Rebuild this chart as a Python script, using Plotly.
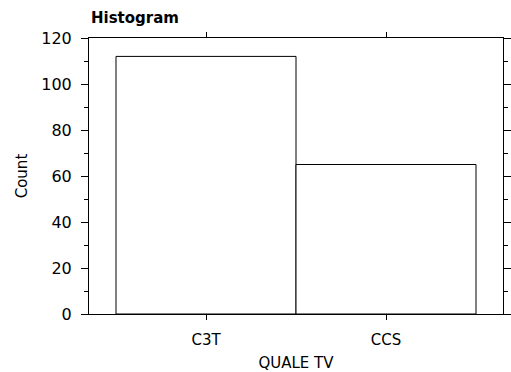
import plotly.graph_objects as go

categories = ["C3T", "CCS"]
counts = [112, 65]

FONT = "DejaVu Sans"

fig = go.Figure(
    go.Bar(
        x=categories,
        y=counts,
        width=1.0,
        marker=dict(color="white", line=dict(color="black", width=1)),
    )
)

fig.update_layout(
    width=511,
    height=372,
    margin=dict(l=89, r=8, t=38, b=58, autoexpand=False),
    paper_bgcolor="white",
    plot_bgcolor="white",
    showlegend=False,
    font=dict(family=FONT, size=15, color="black"),
    title=dict(
        text="<b>Histogram</b>",
        x=91 / 511,
        xanchor="left",
        y=1 - 18 / 372,
        yanchor="middle",
        font=dict(family=FONT, size=15, color="black"),
    ),
)

fig.update_xaxes(
    type="category",
    range=[-0.65, 1.65],
    automargin=False,
    showgrid=False,
    zeroline=False,
    showline=True,
    linecolor="black",
    linewidth=1,
    mirror="ticks",
    ticks="outside",
    ticklen=5,
    tickcolor="black",
    ticklabelstandoff=7,
    title=dict(text="QUALE TV", standoff=12, font=dict(family=FONT, size=15)),
    tickfont=dict(family=FONT, size=15),
)

fig.update_yaxes(
    range=[0, 120],
    dtick=20,
    automargin=False,
    showgrid=False,
    zeroline=False,
    showline=True,
    linecolor="black",
    linewidth=1,
    mirror="ticks",
    ticks="outside",
    ticklen=7,
    tickcolor="black",
    ticklabelstandoff=6,
    minor=dict(dtick=10, ticks="outside", ticklen=4, tickcolor="black", showgrid=False),
    title=dict(text="Count", standoff=10, font=dict(family=FONT, size=15)),
    tickfont=dict(family=FONT, size=16),
)

fig.write_html("out.html")
